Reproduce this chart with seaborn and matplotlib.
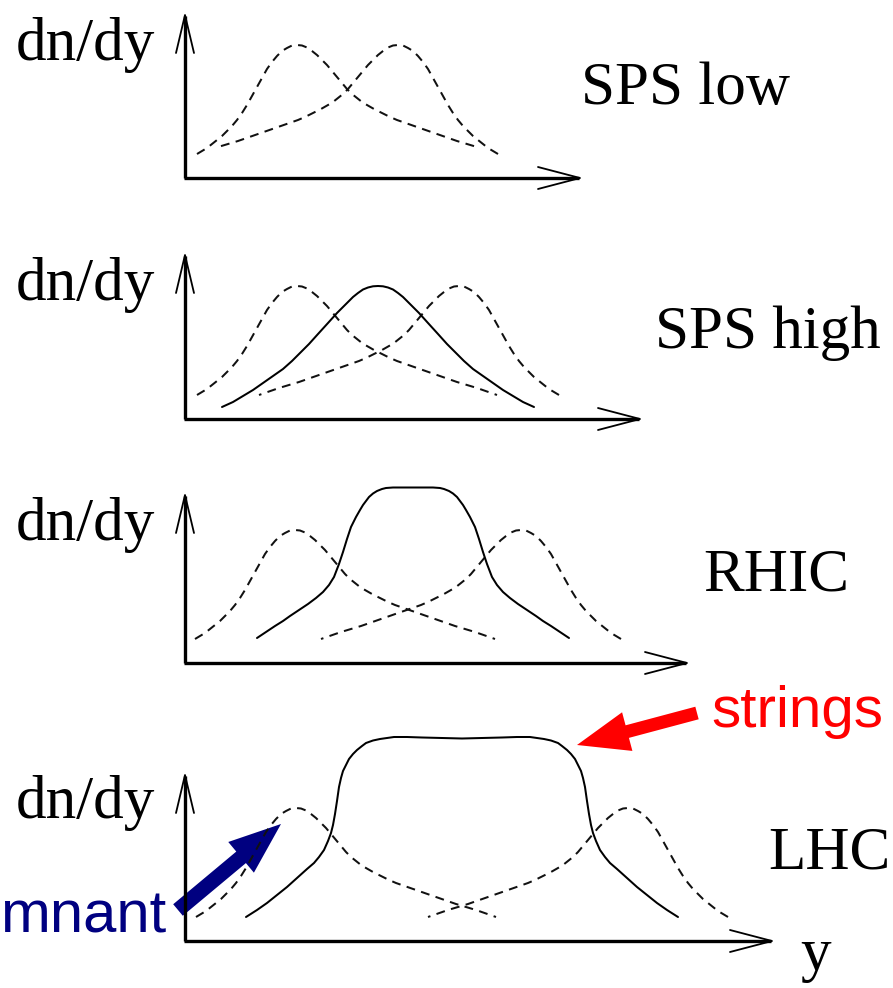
import matplotlib
matplotlib.use("Agg")
import matplotlib.pyplot as plt
from matplotlib.patches import FancyArrow
import numpy as np
import pandas as pd
import seaborn as sns

sns.set_theme(style="white")
plt.rcParams["font.family"] = ["Liberation Serif", "DejaVu Serif"]

# ---------------- data (pixel units) ----------------
PANEL_LABELS = ["SPS low", "SPS high", "RHIC", "LHC"]
Y_LABEL = "dn/dy"
X_LABEL = "y"

# dashed "remnant" profile: offset from its peak and height above baseline
DASH_OFFSET = [-100, -95, -90, -85, -80, -75, -70, -65, -60, -55, -50, -45, -40,
               -35, -30, -25, -20, -15, -10, -5, 0, 5, 10, 15, 20, 25, 30, 35,
               40, 45, 50, 55, 60, 65, 70, 77, 85, 92, 100, 110, 120, 130, 140,
               150, 160, 170, 180, 190, 200]
DASH_HEIGHT = [24, 27, 30, 34, 38, 42, 47, 52, 58, 65, 73, 82, 91,
               100, 109, 116, 122, 127, 130, 132.5, 133, 132.5, 130.5, 127, 123,
               118, 113, 107, 101, 95, 89, 84, 80, 76, 73, 69, 65, 61.5, 58,
               54.5, 51, 47.5, 44, 40.5, 37, 34, 31, 27.5, 24]
DASH_TAIL = [180, 200, 200, 200]          # last tail offset drawn per panel
LEFT_PEAK = [112, 112, 110, 111]          # peak position of projectile remnant
SYM_CENTER = [162.5, 193, 223, 277]       # mid-rapidity position per panel

# solid "strings" curves: offset from centre and height
SOLID_OFFSET = {
    1: [-156, -145, -135, -125, -115, -105, -95, -86, -78, -69, -60, -50, -41,
        -35, -30, -25, -20, -15, -10, -5, 0, 5, 10, 15, 20, 25, 30, 35, 41,
        50, 60, 69, 78, 86, 95, 105, 115, 125, 135, 145, 156],
    2: [-156, -147, -138, -130, -123, -114, -105, -97, -90, -84, -79, -74, -70,
        -66, -62, -57, -53, -50, -47, -44, -40, -36, -31, -27, -20, -10, 0,
        10, 20, 27, 31, 36, 40, 44, 47, 50, 53, 57, 62, 66, 70, 74, 79, 84,
        90, 97, 105, 114, 123, 130, 138, 147, 156],
    3: [-216, -205, -195, -185, -175, -165, -155, -148, -143, -138, -134, -131,
        -129, -127, -125, -123, -121, -119, -116, -113, -109, -105, -100, -96,
        -89, -82, -75, -68, -55, -40, -20, 0, 20, 40, 55, 68, 75, 82, 89, 96,
        100, 105, 109, 113, 116, 119, 121, 123, 125, 127, 129, 131, 134, 138,
        143, 148, 155, 165, 175, 185, 195, 205, 216],
}
SOLID_HEIGHT = {
    1: [12, 17, 23, 29, 36, 43, 50, 58, 66, 75, 85, 96, 106,
        112, 117, 122, 126, 129.5, 131.5, 132.7, 133, 132.7, 131.5, 129.5, 126,
        122, 117, 112, 106, 96, 85, 75, 66, 58, 50, 43, 36, 29, 23, 17, 12],
    2: [25, 31, 37, 42, 47, 53, 59, 65, 71, 78, 86, 99, 111,
        124, 136, 146, 153, 158, 162, 166, 169.5, 172, 174, 175, 175.5, 175.5,
        175.5, 175.5, 175.5, 175, 174, 172, 169.5, 166, 162, 158, 153, 146, 136,
        124, 111, 99, 86, 78, 71, 65, 59, 53, 47, 42, 37, 31, 25],
    3: [24, 31, 38, 46, 54, 63, 72, 78, 84, 91, 100, 108,
        116, 127, 140, 154, 163, 170, 176, 182, 187, 191, 195, 198,
        200.5, 202, 203, 204, 204, 203.5, 203, 202.5, 203, 203.5, 204, 204,
        203, 202, 200.5, 198, 195, 191, 187, 182, 176, 170, 163, 154, 140, 127,
        116, 108, 100, 91, 84, 78, 72, 63, 54, 46, 38, 31, 24],
}
SOLID_CENTER = {1: 193, 2: 228, 3: 277}

# ---------------- layout ----------------
W, H = 893, 988
ORIGIN_X = 185
ORIGIN_Y = [178, 419, 663, 941]
AXIS_TOP = [15, 255, 495, 775]
AXIS_END = [580, 640, 687, 772]
YLAB_BASE = [60, 300, 540, 818]
PLAB_POS = [(581, 104), (655, 348), (703, 590), (768, 868)]

fig = plt.figure(figsize=(W / 100, H / 100), dpi=100)
ax = fig.add_axes([0, 0, 1, 1])
ax.set_xlim(0, W)
ax.set_ylim(H, 0)
ax.axis("off")

AX_LW = 2.4
CURVE_LW = 1.45
DASH = (0, (4.4, 3.2))

for i in range(4):
    oy = ORIGIN_Y[i]
    # axes with open arrow heads
    ax.plot([ORIGIN_X, ORIGIN_X], [AXIS_TOP[i] + 1, oy], color="black", lw=AX_LW,
            solid_capstyle="butt")
    ax.plot([ORIGIN_X - 1.5, AXIS_END[i] - 1], [oy, oy], color="black", lw=AX_LW,
            solid_capstyle="butt")
    t = AXIS_TOP[i]
    ax.plot([ORIGIN_X - 9, ORIGIN_X, ORIGIN_X + 9], [t + 38, t, t + 38],
            color="black", lw=1.3)
    e = AXIS_END[i]
    ax.plot([e - 42, e, e - 42], [oy - 11, oy, oy + 11], color="black", lw=1.3)

    # dashed remnant curves (left and mirrored right)
    off = np.array([o for o in DASH_OFFSET if o <= DASH_TAIL[i]], dtype=float)
    hh = np.array(DASH_HEIGHT[:len(off)], dtype=float)
    lx = ORIGIN_X + LEFT_PEAK[i] + off
    rx = ORIGIN_X + 2 * SYM_CENTER[i] - LEFT_PEAK[i] - off
    yy = oy - hh
    for xs in (lx, rx):
        sns.lineplot(x=xs, y=yy, ax=ax, color="#111111", lw=CURVE_LW,
                     linestyle=DASH, estimator=None, sort=False)

    # solid string curve
    if i in SOLID_OFFSET:
        sx = ORIGIN_X + SOLID_CENTER[i] + np.array(SOLID_OFFSET[i], dtype=float)
        sy = oy - np.array(SOLID_HEIGHT[i], dtype=float)
        sns.lineplot(x=sx, y=sy, ax=ax, color="black", lw=CURVE_LW,
                     estimator=None, sort=False)

    # texts
    ax.text(16, YLAB_BASE[i], Y_LABEL, fontsize=44, ha="left", va="baseline",
            color="black")
    px, py = PLAB_POS[i]
    ax.text(px, py, PANEL_LABELS[i], fontsize=44, ha="left", va="baseline",
            color="black")

ax.text(800, 970, X_LABEL, fontsize=44, ha="left", va="baseline", color="black")

# annotations
ax.add_patch(FancyArrow(697, 713, 577 - 697, 745 - 713, width=13, head_width=40,
                        head_length=52, length_includes_head=True,
                        color="#ff0000", lw=0))
ax.text(711, 727, "strings", fontsize=42, ha="left", va="baseline",
        color="#ff0000", family=["Liberation Sans", "DejaVu Sans"])

ax.add_patch(FancyArrow(178, 910, 281 - 178, 824 - 910, width=15, head_width=40,
                        head_length=52, length_includes_head=True,
                        color="#000080", lw=0))
ax.text(0, 932, "mnant", fontsize=43, ha="left", va="baseline",
        color="#000080", family=["Liberation Sans", "DejaVu Sans"])

fig.savefig("out.png", dpi=100, facecolor="white")
